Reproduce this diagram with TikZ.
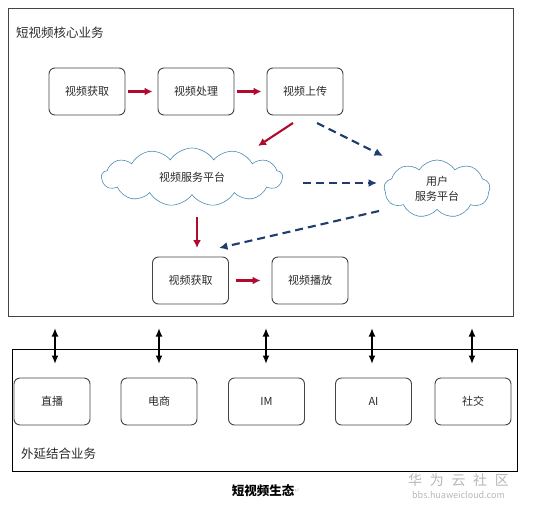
\documentclass[tikz,border=0pt]{standalone}
\usepackage{fontspec}
\setmainfont{Noto Sans CJK SC}
\newfontfamily\symfont{DejaVu Sans}
\usetikzlibrary{arrows.meta,shapes.symbols}
\definecolor{redarr}{HTML}{B00B2E}
\definecolor{bluearr}{HTML}{1E3C6C}
\definecolor{cloudline}{HTML}{4A8DB4}
\definecolor{boxline}{HTML}{444444}
\definecolor{txt}{HTML}{2A2A2A}
\definecolor{wm}{HTML}{B8B8B8}
\tikzset{
  frame/.style={draw=#1, line width=0.9pt},
  stepbox/.style={draw=boxline, line width=0.9pt, rounded corners=6pt, minimum width=76pt, minimum height=47pt, inner sep=0pt, font=\fontsize{11}{12}\selectfont, text=txt},
  cloudnode/.style={cloud, cloud puffs=#1, cloud puff arc=115, cloud ignores aspect, draw=cloudline, line width=0.6pt, inner sep=0pt, font=\fontsize{11}{15}\selectfont, text=txt, align=center},
  redarrow/.style={draw=redarr, line width=2.1pt, -{Latex[length=8pt,width=8pt]}},
  bluearrow/.style={draw=bluearr, line width=2.1pt, dash pattern=on 8pt off 5pt, -{Latex[length=8.5pt,width=8pt]}},
  duo/.style={draw=black, line width=2pt, {Latex[length=8.5pt,width=7pt]}-{Latex[length=8.5pt,width=7pt]}},
  lbl/.style={font=\fontsize{12.5}{14}\selectfont, text=txt, anchor=west, inner sep=0pt}
}
\begin{document}
\begin{tikzpicture}[x=1pt,y=-1pt]
\useasboundingbox (0,0) rectangle (551,509);
\fill[white] (0,0) rectangle (551,509);
% frames
\draw[frame=boxline] (8,8) rectangle (513,316);
\draw[frame=black] (12,349) rectangle (517,471);
\node[lbl] (t1) at (16,33) {短视频核心业务};
\node[lbl] (t2) at (21,454) {外延结合业务};
% top row
\node[stepbox] (b1) at (87,91.5) {视频获取};
\node[stepbox] (b2) at (196,91.5) {视频处理};
\node[stepbox] (b3) at (305,91.5) {视频上传};
% clouds
\node[cloudnode=13, minimum width=181pt, minimum height=58pt] (c1) at (192,177) {视频服务平台};
\node[cloudnode=9, minimum width=106pt, minimum height=58pt] (c2) at (437,189) {用户\\服务平台};
% bottom row of core
\node[stepbox] (b4) at (190.5,280.5) {视频获取};
\node[stepbox] (b5) at (310,280.5) {视频播放};
% arrows
\draw[redarrow, shorten <=3pt, shorten >=5pt] (b1.east) -- (b2.west);
\draw[redarrow, shorten <=3pt, shorten >=5pt] (b2.east) -- (b3.west);
\draw[redarrow, shorten <=7pt, shorten >=11pt] (b4.east) -- (b5.west);
\coordinate (r1s) at (293,123);
\coordinate (r1e) at (258,146);
\draw[redarrow] (r1s) -- (r1e);
\coordinate (r2s) at (197,217);
\coordinate (r2e) at (197,248);
\draw[redarrow] (r2s) -- (r2e);
\coordinate (d1s) at (317,123);
\coordinate (d1e) at (383,156);
\draw[bluearrow] (d1s) -- (d1e);
\coordinate (d2s) at (303,183);
\coordinate (d2e) at (377,183);
\draw[bluearrow] (d2s) -- (d2e);
\coordinate (d3s) at (379,211);
\coordinate (d3e) at (219,248);
\draw[bluearrow] (d3s) -- (d3e);
% external business boxes
\foreach \n/\x/\t in {e1/52/直播, e2/159/电商, e3/266.5/IM, e4/373.5/AI, e5/473/社交}{
  \node[stepbox] (\n) at (\x,401.5) {\t};
}
\foreach \x/\n in {55/e1, 159/e2, 266/e3, 372/e4, 472/e5}{
  \coordinate (u\n) at (\x,328);
  \coordinate (l\n) at (\x,364);
  \draw[duo] (u\n) -- (l\n);
}
% caption and watermark
\node[font=\fontsize{12.5}{14}\selectfont\bfseries, text=black, inner sep=0pt] (cap) at (263,491) {短视频生态};
\node[font=\symfont\fontsize{6}{7}\selectfont, text=wm, anchor=west, inner sep=0pt] (ret) at (cap.east) {↵};
\node[font=\fontsize{14}{15}\selectfont, text=wm, inner sep=0pt] (wm1) at (458.5,480) {华\hspace{0.55em}为\hspace{0.55em}云\hspace{0.55em}社\hspace{0.55em}区};
\node[font=\fontsize{9}{10}\selectfont, text=wm, inner sep=0pt] (wm2) at (458.5,494.5) {bbs.huaweicloud.com};
\end{tikzpicture}
\end{document}
